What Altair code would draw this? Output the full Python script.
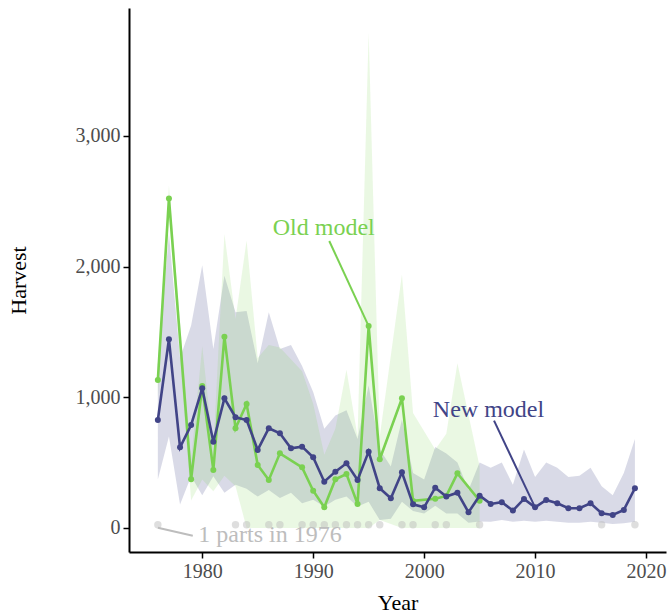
import altair as alt
import pandas as pd

# ---- harvest estimates, new model (every year 1976-2019) ----
years = list(range(1976, 2020))
new_est = [826, 1444, 617, 788, 1069, 660, 992, 847, 826, 597,
           763, 725, 610, 622, 541, 354, 431, 495, 367, 584,
           304, 227, 426, 181, 158, 308, 240, 270, 120, 247,
           184, 197, 133, 222, 158, 214, 189, 151, 151, 189,
           112, 99, 138, 304]
new_lo = [370, 700, 180, 395, 250, 395, 270, 330, 300, 240,
          290, 230, 270, 190, 215, 165, 215, 240, 165, 200,
          60, 70, 200, 130, 110, 170, 110, 110, 40, 50,
          48, 60, 48, 55, 48, 55, 48, 40, 40, 48,
          40, 31, 36, 48]
new_hi = [1250, 2250, 1300, 1550, 2010, 1370, 1930, 1650, 1660, 1260,
          1650, 1370, 1400, 1240, 1040, 760, 860, 900, 680, 1090,
          600, 470, 830, 420, 370, 620, 570, 500, 290, 500,
          460, 500, 330, 600, 390, 500, 460, 390, 400, 460,
          320, 250, 420, 680]

# ---- harvest estimates, old model (years with an estimate) ----
old_years = [1976, 1977, 1979, 1980, 1981, 1982, 1983, 1984, 1985, 1986,
             1987, 1989, 1990, 1991, 1992, 1993, 1994, 1995, 1996, 1998,
             1999, 2001, 2002, 2003, 2005]
old_est = [1132, 2522, 373, 1086, 444, 1464, 763, 949, 482, 367,
           571, 464, 285, 158, 373, 413, 184, 1545, 526, 992,
           207, 224, 245, 418, 208]
old_lo = [1000, 2400, 210, 370, 280, 400, 320, 0, 0, 0,
          0, 0, 0, 0, 0, 0, 0, 0, 60, 0,
          0, 0, 0, 0, 0]
old_hi = [1250, 2620, 520, 1390, 600, 2250, 1600, 2200, 1300, 1400,
          1380, 1200, 950, 560, 760, 1210, 700, 3790, 700, 1940,
          880, 600, 720, 1260, 470]

# ---- years reported in parts ----
parts_years = [1976, 1983, 1984, 1986, 1987, 1989, 1990, 1991, 1992, 1993,
               1994, 1995, 1996, 1998, 1999, 2001, 2002, 2005, 2016, 2019]
parts_level = 25

# ---- label annotations ----
label_text = ["Old model", "New model", "1 parts in 1976"]
label_x = [1990.95, 2005.8, 1979.65]
label_y = [2295, 903, -54]
label_align = ["center", "center", "left"]
label_color = ["#7AD151", "#414487", "#BDBDBD"]
seg_x = [1991.45, 2006.3, 1976.0]
seg_y = [2196, 821, 2]
seg_x2 = [1995, 2010, 1979.15]
seg_y2 = [1545, 158, -59]

FONT = "Liberation Serif"
BLUE = "#414487"
GREEN = "#7AD151"

new_df = pd.DataFrame({"Year": years, "Harvest": new_est, "lo": new_lo, "hi": new_hi})
old_df = pd.DataFrame({"Year": old_years, "Harvest": old_est, "lo": old_lo, "hi": old_hi})
parts_df = pd.DataFrame({"Year": parts_years, "Harvest": [parts_level] * len(parts_years)})
lab_df = pd.DataFrame({"Year": label_x, "Harvest": label_y, "text": label_text,
                       "align": label_align, "color": label_color})
seg_df = pd.DataFrame({"Year": seg_x, "Harvest": seg_y, "Year2": seg_x2,
                       "Harvest2": seg_y2, "color": label_color})

xscale = alt.Scale(domain=[1973.4, 2021.8], nice=False, zero=False)
yscale = alt.Scale(domain=[-184, 3979], nice=False, zero=False)
xaxis = alt.Axis(values=[1980, 1990, 2000, 2010, 2020], format="d", title="Year",
                 titleX=268.5, titleY=50, titleBaseline="middle")
yaxis = alt.Axis(values=[0, 1000, 2000, 3000], format=",.0f", title="Harvest",
                 titleX=-111, titleY=272, titleBaseline="middle")

X = alt.X("Year:Q", scale=xscale, axis=xaxis)
Y = alt.Y("Harvest:Q", scale=yscale, axis=yaxis)


def ribbon(df, color, alpha):
    return alt.Chart(df).mark_area(color=color, opacity=alpha).encode(
        x=X,
        y=alt.Y("lo:Q", scale=yscale, axis=yaxis),
        y2="hi:Q",
    )


def series(df, color):
    line = alt.Chart(df).mark_line(color=color, strokeWidth=2.6).encode(x=X, y=Y)
    pts = alt.Chart(df).mark_circle(color=color, opacity=1, size=36).encode(x=X, y=Y)
    return line + pts


parts = alt.Chart(parts_df).mark_circle(color="#BEBEBE", opacity=0.5, size=55).encode(x=X, y=Y)

segments = alt.Chart(seg_df).mark_rule(strokeWidth=2).encode(
    x=X, y=Y, x2="Year2:Q", y2="Harvest2:Q",
    color=alt.Color("color:N", scale=None),
)


def labels(align):
    sub = lab_df[lab_df["align"] == align]
    return alt.Chart(sub).mark_text(font=FONT, fontSize=24, baseline="middle", align=align).encode(
        x=X, y=Y, text="text:N",
        color=alt.Color("color:N", scale=None),
    )


chart = alt.layer(
    ribbon(new_df, BLUE, 0.2),
    ribbon(old_df, GREEN, 0.16),
    parts,
    series(old_df, GREEN),
    series(new_df, BLUE),
    segments,
    labels("center"),
    labels("left"),
).properties(
    width=537,
    height=544,
    autosize=alt.AutoSizeParams(type="none"),
    padding={"left": 129, "top": 8, "right": 5, "bottom": 62},
).configure_view(
    stroke=None
).configure_axis(
    grid=False,
    domainColor="black",
    domainWidth=2,
    tickColor="black",
    tickWidth=1.5,
    tickSize=6,
    labelFont=FONT,
    labelFontSize=20,
    labelColor="#4D4D4D",
    labelPadding=3,
    titleFont=FONT,
    titleFontSize=22,
    titleColor="black",
    titleFontWeight="normal",
)

chart.save("out.html", embed_options={"renderer": "svg", "actions": False})
